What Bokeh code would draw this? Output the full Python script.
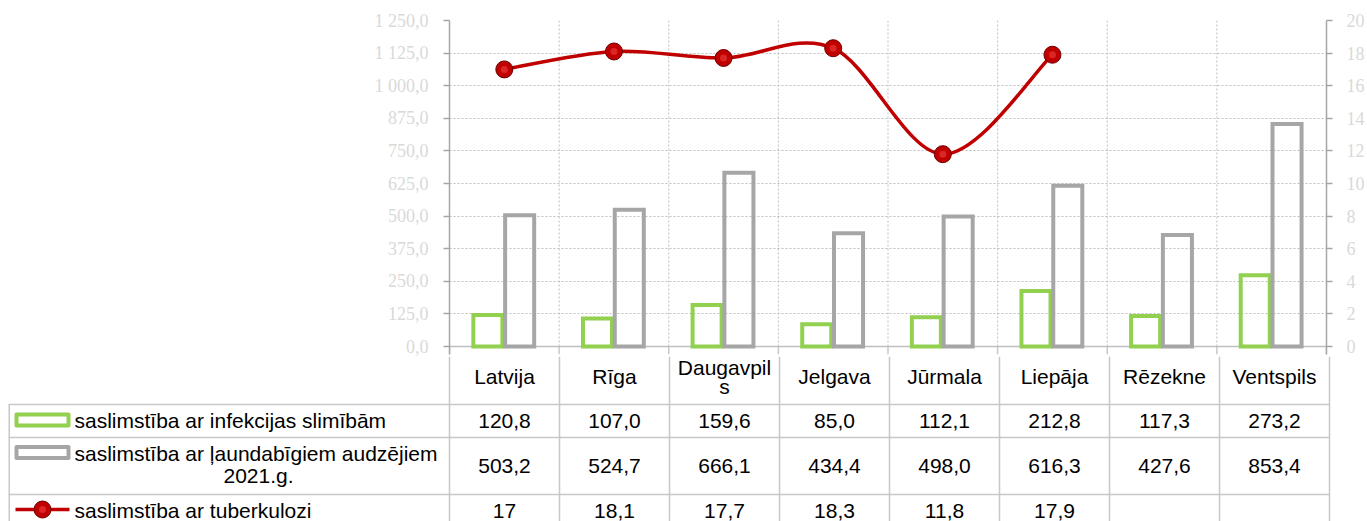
from bokeh.plotting import figure
from bokeh.models import Range1d, LinearAxis, FixedTicker
from bokeh.embed import file_html
from bokeh.resources import INLINE
from bokeh.core.properties import value

# ---------------- data ----------------
categories = ["Latvija", "Rīga", "Daugavpils", "Jelgava", "Jūrmala", "Liepāja", "Rēzekne", "Ventspils"]
header_labels = ["Latvija", "Rīga", "Daugavpil\ns", "Jelgava", "Jūrmala", "Liepāja", "Rēzekne", "Ventspils"]
infekcijas = [120.8, 107.0, 159.6, 85.0, 112.1, 212.8, 117.3, 273.2]
audzeji = [503.2, 524.7, 666.1, 434.4, 498.0, 616.3, 427.6, 853.4]
tuberkuloze = [17, 18.1, 17.7, 18.3, 11.8, 17.9, None, None]
series_labels = ["saslimstība ar infekcijas slimībām",
                 "saslimstība ar ļaundabīgiem audzējiem\n2021.g.",
                 "saslimstība ar tuberkulozi"]
left_ticks = [0, 125, 250, 375, 500, 625, 750, 875, 1000, 1125, 1250]
right_ticks = [0, 2, 4, 6, 8, 10, 12, 14, 16, 18, 20]

GREEN = "#92D050"
GRAY = "#A6A6A6"
RED = "#C00000"
AXIS = "#A6A6A6"
GRID = "#BFBFBF"
TABLE = "#C8C8C8"
TICKLAB = "#D9D9D9"

W = 1367


def fmt_left(v):
    return f"{v:,.1f}".replace(",", " ").replace(".", ",")


def fmt_val(v):
    if v is None:
        return ""
    if isinstance(v, int):
        return str(v)
    return f"{v:.1f}".replace(".", ",")


n = len(categories)
centers = [i + 0.5 for i in range(n)]

# ---------------- chart figure ----------------
# frame: page y 20 (value 1250) .. 354; value 0 sits at page y 346
FRAME_H = 334.0
PX_PER_UNIT = 326.0 / 1250.0
y_low = -(FRAME_H - 326.0) / PX_PER_UNIT
r_low = y_low / 1250.0 * 20.0

p = figure(width=W, height=356, x_range=Range1d(0, n), y_range=Range1d(y_low, 1250),
           output_backend="svg", toolbar_location=None, x_axis_location=None,
           min_border_left=449, min_border_right=38, min_border_top=20, min_border_bottom=2)
p.outline_line_color = None
p.background_fill_color = "white"
p.xgrid.visible = False
p.ygrid.ticker = FixedTicker(ticks=left_ticks[1:])
p.ygrid.grid_line_color = GRID
p.ygrid.grid_line_dash = "2 2"
p.ygrid.grid_line_width = 1

# vertical dotted category separators inside the plot area
sep = list(range(1, n))
p.segment(x0=sep, y0=[0] * len(sep), x1=sep, y1=[1250] * len(sep),
          line_color=GRID, line_dash="2 2", line_width=1)
# start of the table column lines below the baseline
bnd = list(range(0, n + 1))
p.segment(x0=bnd, y0=[y_low] * len(bnd), x1=bnd, y1=[0] * len(bnd),
          line_color=TABLE, line_width=1.5)
# baseline
p.segment(x0=[0], y0=[0], x1=[n], y1=[0], line_color=GRID, line_width=1.5)

# left axis
yax = p.yaxis[0]
yax.ticker = FixedTicker(ticks=left_ticks)
yax.major_label_overrides = {t: fmt_left(t) for t in left_ticks}
yax.major_label_text_font = "Liberation Serif"
yax.major_label_text_font_size = "18px"
yax.major_label_text_color = TICKLAB
yax.axis_line_color = AXIS
yax.axis_line_width = 1.5
yax.major_tick_line_color = AXIS
yax.major_tick_line_width = 1.5
yax.major_tick_out = 6
yax.major_tick_in = 0
yax.minor_tick_line_color = None
yax.major_label_standoff = 15

# right axis
p.extra_y_ranges = {"tb": Range1d(r_low, 20)}
rax = LinearAxis(y_range_name="tb", ticker=FixedTicker(ticks=right_ticks))
rax.major_label_text_font = "Liberation Serif"
rax.major_label_text_font_size = "18px"
rax.major_label_text_color = TICKLAB
rax.axis_line_color = AXIS
rax.axis_line_width = 1.5
rax.major_tick_line_color = AXIS
rax.major_tick_line_width = 1.5
rax.major_tick_out = 6
rax.major_tick_in = 0
rax.minor_tick_line_color = None
rax.major_label_standoff = 14
p.add_layout(rax, "right")

# bars (hollow)
x_inf = [c - 0.15 for c in centers]
x_aud = [c + 0.14 for c in centers]
p.vbar(x=x_inf, top=infekcijas, bottom=0, width=0.265, fill_color=None,
       line_color=GREEN, line_width=4, line_join="miter")
p.vbar(x=x_aud, top=audzeji, bottom=0, width=0.265, fill_color=None,
       line_color=GRAY, line_width=4, line_join="miter")

# smoothed tuberculosis line (Catmull-Rom style Bezier, like Excel's smoothing)
xs = [centers[i] for i, v in enumerate(tuberkuloze) if v is not None]
ys = [v for v in tuberkuloze if v is not None]
m = len(xs)
bx0, by0, bx1, by1, cx0, cy0, cx1, cy1 = [], [], [], [], [], [], [], []
for i in range(m - 1):
    a = i - 1 if i > 0 else i
    d = i + 2 if i + 2 < m else i + 1
    bx0.append(xs[i]); by0.append(ys[i]); bx1.append(xs[i + 1]); by1.append(ys[i + 1])
    cx0.append(xs[i] + (xs[i + 1] - xs[a]) / 6.0)
    cy0.append(ys[i] + (ys[i + 1] - ys[a]) / 6.0)
    cx1.append(xs[i + 1] - (xs[d] - xs[i]) / 6.0)
    cy1.append(ys[i + 1] - (ys[d] - ys[i]) / 6.0)
p.bezier(x0=bx0, y0=by0, x1=bx1, y1=by1, cx0=cx0, cy0=cy0, cx1=cx1, cy1=cy1,
         line_color=RED, line_width=3.5, line_cap="round", y_range_name="tb")
p.scatter(xs, ys, size=17, fill_color=RED, line_color="#6E0000", line_width=1, y_range_name="tb")
p.scatter(xs, ys, size=7, fill_color="#E23030", line_color=None, fill_alpha=0.8, y_range_name="tb")

# ---------------- data table figure (page-pixel coordinates) ----------------
TOP = 356
BOT = 521
t = figure(width=W, height=BOT - TOP, x_range=Range1d(0, W), y_range=Range1d(BOT, TOP),
           output_backend="svg", toolbar_location=None, min_border=0,
           x_axis_location=None, y_axis_location=None)
t.outline_line_color = None
t.xgrid.visible = False
t.ygrid.visible = False

X0 = 449.0
CW = 110.0
col_b = [X0 + CW * k for k in range(n + 1)]
col_c = [X0 + CW * (k + 0.5) for k in range(n)]
row_lines = [404, 437, 494]
row_mid = [420, 465, 510]

t.segment(x0=col_b, y0=[TOP] * len(col_b), x1=col_b, y1=[BOT] * len(col_b),
          line_color=TABLE, line_width=1.5)
t.segment(x0=[8.75], y0=[row_lines[0]], x1=[8.75], y1=[BOT], line_color=TABLE, line_width=1.5)
t.segment(x0=[8] * len(row_lines), y0=row_lines, x1=[col_b[-1]] * len(row_lines), y1=row_lines,
          line_color=TABLE, line_width=1.5)

FONT = value("Liberation Sans")
FS = "21px"

hx, hy, ht = [], [], []
for k, lab in enumerate(header_labels):
    lines = lab.split("\n")
    for j, ln in enumerate(lines):
        hx.append(col_c[k])
        hy.append(376 + (j - (len(lines) - 1) / 2.0) * 19)
        ht.append(ln)
t.text(x=hx, y=hy, text=ht, text_font=FONT, text_font_size=FS, text_color="black",
       text_align="center", text_baseline="middle")

vx, vy, vt = [], [], []
for r, series in enumerate([infekcijas, audzeji, tuberkuloze]):
    for k, v in enumerate(series):
        if v is None:
            continue
        vx.append(col_c[k]); vy.append(row_mid[r]); vt.append(fmt_val(v))
t.text(x=vx, y=vy, text=vt, text_font=FONT, text_font_size=FS, text_color="black",
       text_align="center", text_baseline="middle")

lx, ly, lt = [], [], []
cx, cy, ct = [], [], []
for r, lab in enumerate(series_labels):
    lines = lab.split("\n")
    if len(lines) == 1:
        lx.append(74); ly.append(row_mid[r]); lt.append(lines[0])
    else:
        lx.append(74); ly.append(row_mid[r] - 12); lt.append(lines[0])
        for j, ln in enumerate(lines[1:]):
            cx.append(258); cy.append(row_mid[r] + 10 + 22 * j); ct.append(ln)
t.text(x=lx, y=ly, text=lt, text_font=FONT, text_font_size=FS, text_color="black",
       text_align="left", text_baseline="middle")
t.text(x=cx, y=cy, text=ct, text_font=FONT, text_font_size=FS, text_color="black",
       text_align="center", text_baseline="middle")

t.rect(x=[42, 42], y=[row_mid[0] - 0.5, row_mid[1] - 13], width=52, height=11,
       fill_color="white", line_color=[GREEN, GRAY], line_width=4, line_join="round")
t.segment(x0=[15], y0=[row_mid[2] - 1], x1=[69], y1=[row_mid[2] - 1], line_color=RED, line_width=3.5)
t.scatter([42], [row_mid[2] - 1], size=17, fill_color=RED, line_color="#6E0000", line_width=1)
t.scatter([42], [row_mid[2] - 1], size=7, fill_color="#E23030", line_color=None, fill_alpha=0.8)

open("out.html", "w").write(file_html([p, t], INLINE))
